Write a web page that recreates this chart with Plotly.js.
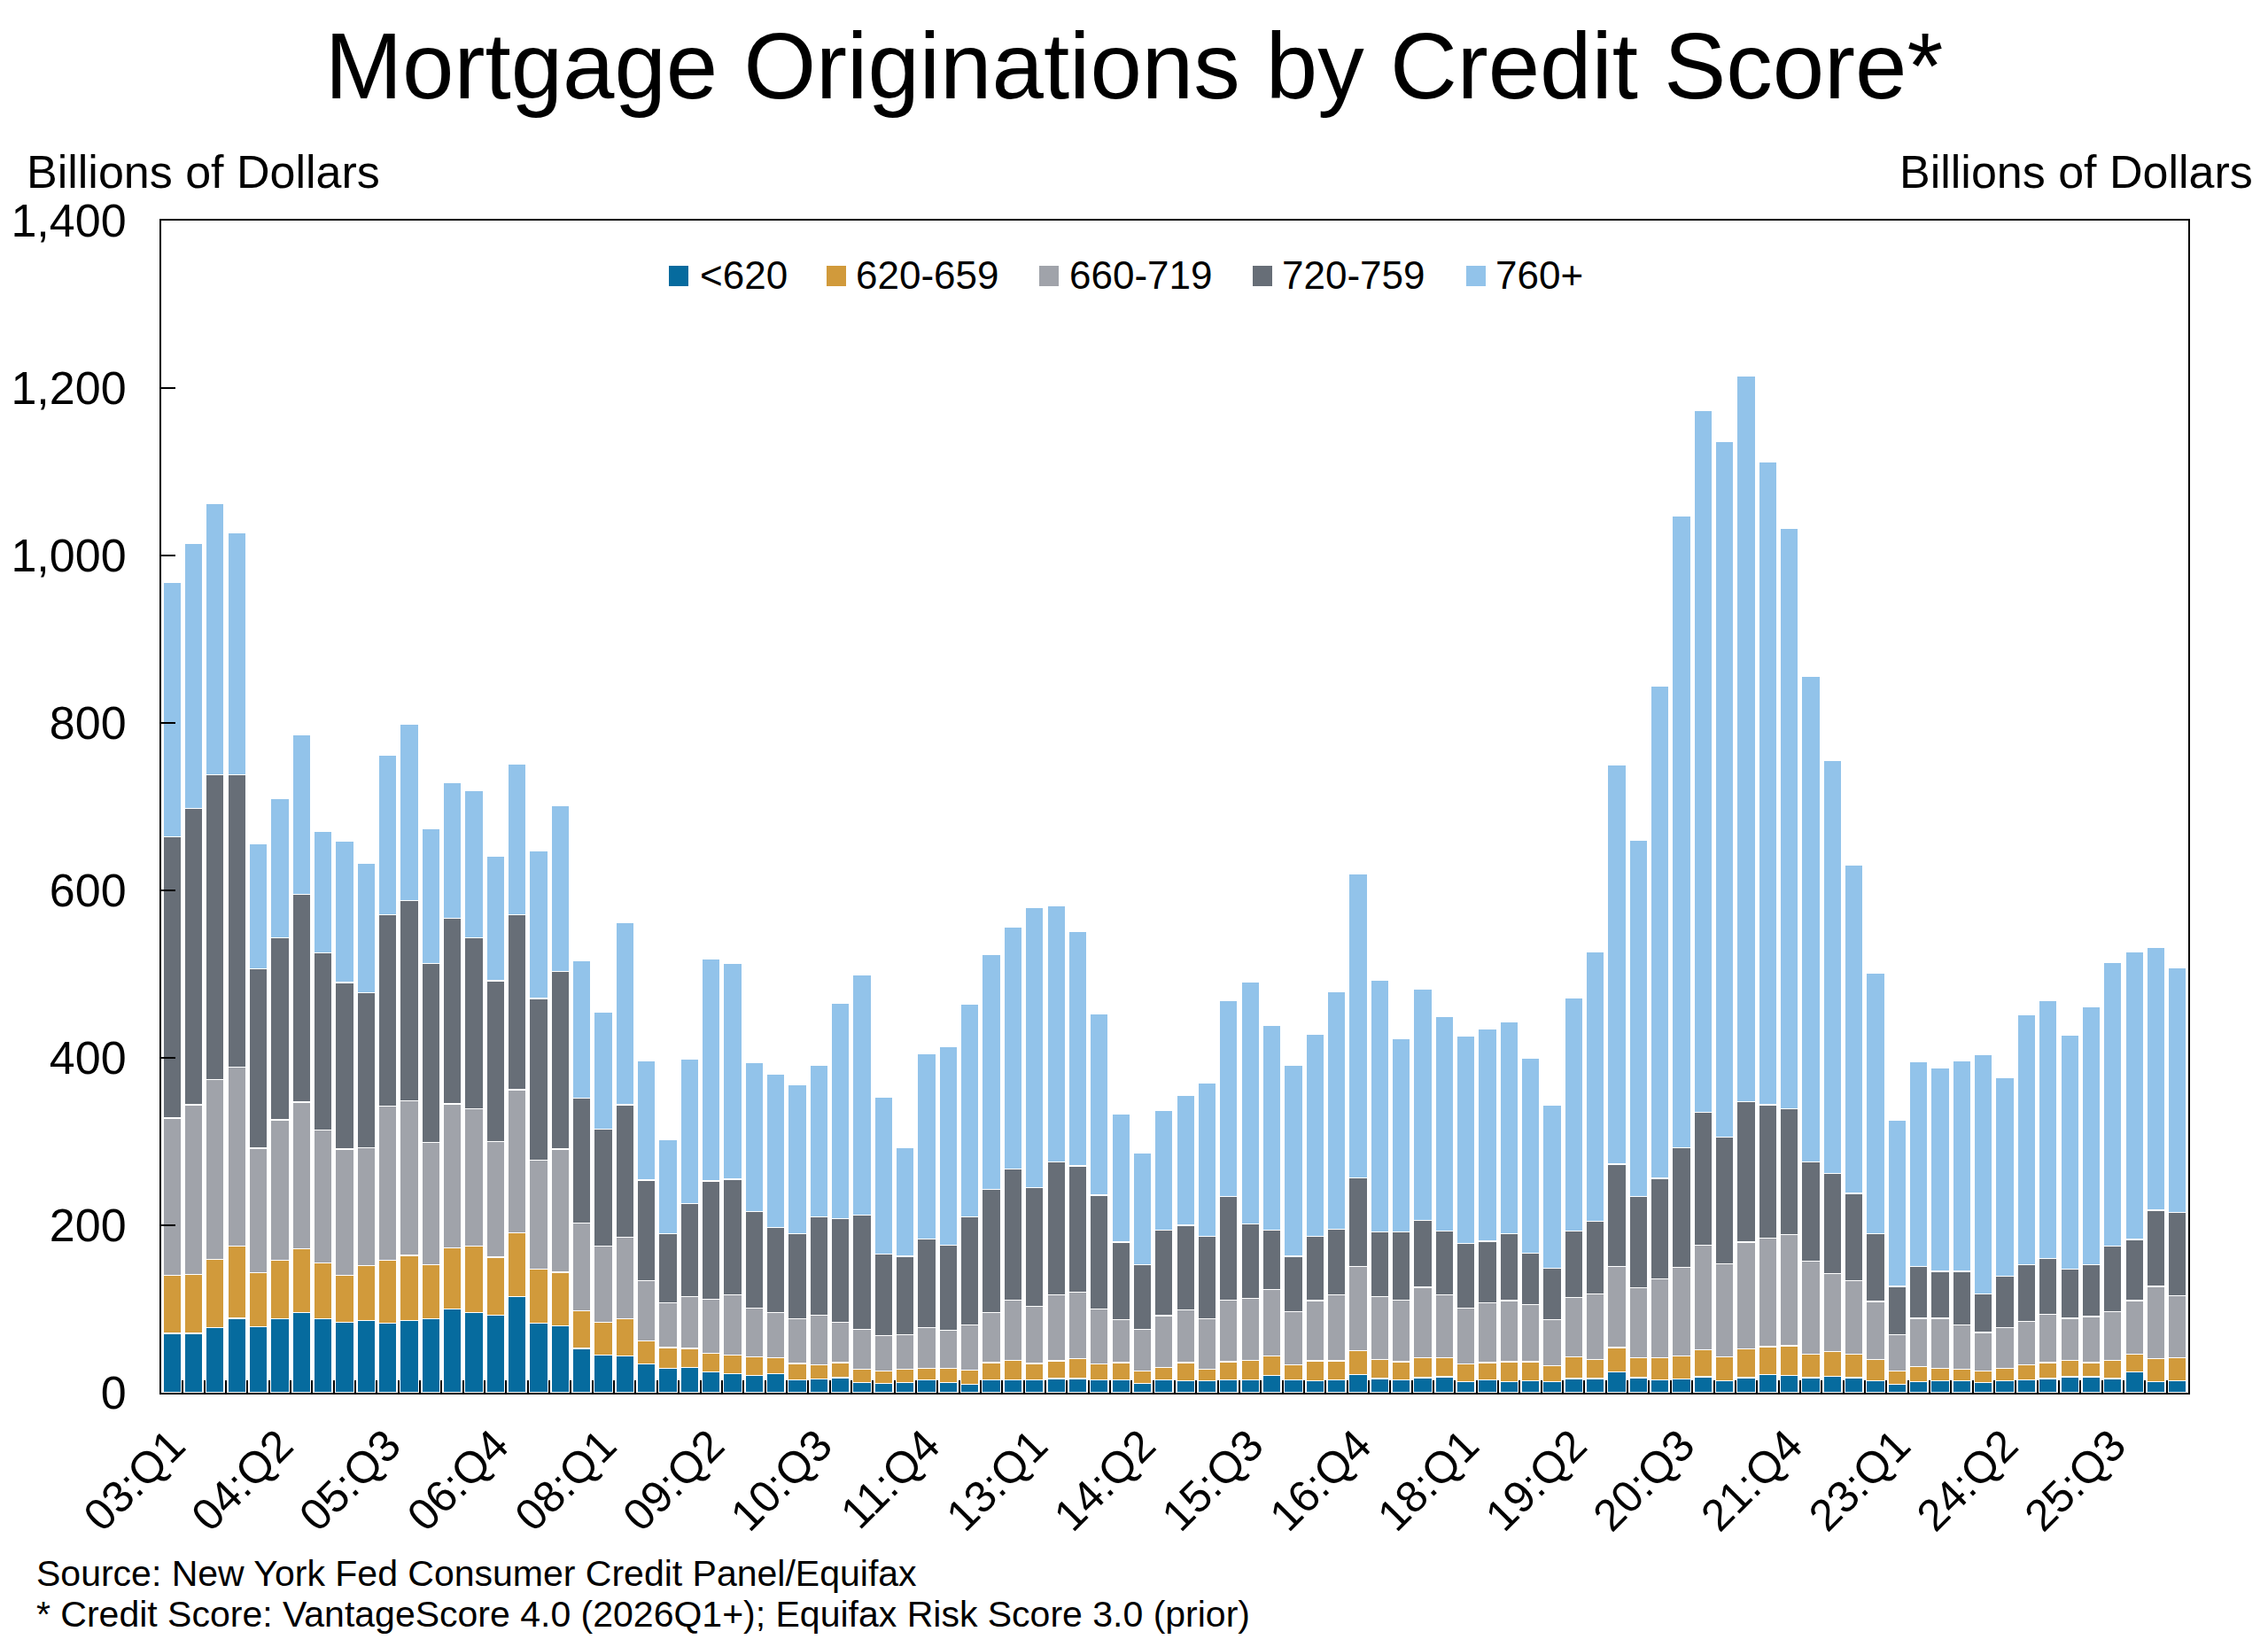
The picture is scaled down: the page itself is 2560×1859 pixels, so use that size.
<!DOCTYPE html>
<html>
<head>
<meta charset="utf-8">
<script src="https://cdn.plot.ly/plotly-3.0.1.min.js"></script>
<style>
  html, body { margin: 0; padding: 0; background: #ffffff; }
  #chart { width: 2560px; height: 1859px; }
</style>
</head>
<body>
<div id="chart"></div>
<script>
// Quarter categories, 2003Q1 .. 2026Q2
const quarters = [
  "03:Q1","03:Q2","03:Q3","03:Q4","04:Q1","04:Q2","04:Q3","04:Q4",
  "05:Q1","05:Q2","05:Q3","05:Q4","06:Q1","06:Q2","06:Q3","06:Q4",
  "07:Q1","07:Q2","07:Q3","07:Q4","08:Q1","08:Q2","08:Q3","08:Q4",
  "09:Q1","09:Q2","09:Q3","09:Q4","10:Q1","10:Q2","10:Q3","10:Q4",
  "11:Q1","11:Q2","11:Q3","11:Q4","12:Q1","12:Q2","12:Q3","12:Q4",
  "13:Q1","13:Q2","13:Q3","13:Q4","14:Q1","14:Q2","14:Q3","14:Q4",
  "15:Q1","15:Q2","15:Q3","15:Q4","16:Q1","16:Q2","16:Q3","16:Q4",
  "17:Q1","17:Q2","17:Q3","17:Q4","18:Q1","18:Q2","18:Q3","18:Q4",
  "19:Q1","19:Q2","19:Q3","19:Q4","20:Q1","20:Q2","20:Q3","20:Q4",
  "21:Q1","21:Q2","21:Q3","21:Q4","22:Q1","22:Q2","22:Q3","22:Q4",
  "23:Q1","23:Q2","23:Q3","23:Q4","24:Q1","24:Q2","24:Q3","24:Q4",
  "25:Q1","25:Q2","25:Q3","25:Q4","26:Q1","26:Q2"
];

// Labelled quarters on the x axis
const labelledQuarters = [
  "03:Q1","04:Q2","05:Q3","06:Q4","08:Q1","09:Q2","10:Q3","11:Q4",
  "13:Q1","14:Q2","15:Q3","16:Q4","18:Q1","19:Q2","20:Q3","21:Q4",
  "23:Q1","24:Q2","25:Q3"
];

// Billions of dollars by credit score band
const under620 = [
  71,71,78,89,79,88,96,88,84,86,83,86,88,100,96,93,
  115,83,80,53,45,44,34,29,30,25,23,21,23,15,16,18,
  12,11,12,15,12,10,15,15,15,17,17,15,15,11,15,14,
  14,15,15,21,15,14,15,22,17,15,18,19,13,15,13,14,
  13,17,17,25,18,15,16,19,14,18,22,21,18,20,18,14,
  10,13,14,14,12,14,15,17,19,19,17,25,13,14
];
const s620_659 = [
  69,70,81,86,64,70,76,67,56,66,75,78,65,73,79,69,
  76,65,64,45,39,44,28,25,23,22,22,22,19,20,17,18,
  16,15,16,14,17,17,21,24,20,21,24,19,21,15,15,22,
  14,22,24,23,18,24,23,28,23,22,24,23,21,21,24,23,
  19,26,23,29,24,27,28,32,29,34,33,35,28,29,28,26,
  16,18,15,14,14,15,18,19,20,17,22,21,28,28
];
const s660_719 = [
  188,203,215,214,149,168,175,159,151,141,184,185,146,172,164,138,
  171,130,147,105,91,98,72,53,62,65,72,58,54,53,60,48,
  48,42,41,49,46,54,60,72,68,79,79,66,51,50,62,63,
  60,74,74,79,64,72,79,101,75,74,84,75,67,71,73,68,
  55,71,78,97,83,94,106,125,111,128,130,133,111,93,88,69,
  43,58,60,53,46,49,52,58,50,55,58,64,86,74
];
const s720_759 = [
  336,354,364,349,214,217,248,211,199,185,229,239,214,222,204,192,
  209,193,212,149,140,158,120,83,111,141,138,115,101,102,117,124,
  136,98,94,106,101,129,147,156,142,159,151,136,93,77,102,101,
  99,123,89,71,66,77,78,106,77,81,80,76,77,74,80,62,
  62,79,87,122,109,120,143,159,151,168,159,150,119,120,104,81,
  58,62,56,64,46,61,68,66,59,62,78,73,91,99
];
const s760plus = [
  304,316,324,289,150,167,191,146,169,154,190,211,161,162,176,149,
  180,176,198,164,140,217,142,112,173,265,258,178,184,178,181,257,
  287,187,130,221,237,254,280,289,334,306,280,217,153,133,143,155,
  183,234,289,245,228,241,284,363,301,231,276,256,248,254,253,233,
  194,279,322,477,426,588,754,838,831,866,768,693,580,493,392,311,
  198,244,243,251,286,237,298,308,279,308,339,344,314,292
];

const seriesNames  = ["<620", "620-659", "660-719", "720-759", "760+"];
const seriesValues = [under620, s620_659, s660_719, s720_759, s760plus];
const seriesColors = ["#066b9e", "#d19a3b", "#a0a3aa", "#676e77", "#92c3ea"];

const yTickVals = [0, 200, 400, 600, 800, 1000, 1200, 1400];

const sourceLines = [
  "Source: New York Fed Consumer Credit Panel/Equifax",
  "* Credit Score: VantageScore 4.0 (2026Q1+); Equifax Risk Score 3.0 (prior)"
];

// ---- layout geometry (page pixels) ----
const FONT = "Liberation Sans, Arial, Helvetica, sans-serif";
const PLOT = { left: 182, right: 2470, top: 249, bottom: 1572 };
const PW = PLOT.right - PLOT.left, PH = PLOT.bottom - PLOT.top;
const px = X => (X - PLOT.left) / PW;      // page x -> paper x
const py = Y => (PLOT.bottom - Y) / PH;    // page y -> paper y

// legend layout (page pixels): symbol left edges, text left edges
const legendSymbolLeft = [755, 933, 1173, 1414, 1655];
const legendTextLeft   = [790, 966, 1207, 1447, 1688];
const legendSymbolSize = 22, legendTop = 300, legendMidY = 311;

const traces = seriesNames.map((name, k) => ({
  type: "bar",
  name: name,
  x: quarters,
  y: seriesValues[k],
  marker: { color: seriesColors[k], line: { color: "#ffffff", width: 1.2 } },
  hoverinfo: "x+y+name"
}));

const tickText = quarters.map(q => labelledQuarters.includes(q) ? q : "");

const legendShapes = seriesNames.map((n, k) => ({
  type: "rect", xref: "paper", yref: "paper",
  x0: px(legendSymbolLeft[k]), x1: px(legendSymbolLeft[k] + legendSymbolSize),
  y0: py(legendTop + legendSymbolSize + 1), y1: py(legendTop),
  fillcolor: seriesColors[k], line: { width: 0 }, layer: "above"
}));
const legendLabels = seriesNames.map((n, k) => ({
  text: n, showarrow: false, xref: "paper", yref: "paper",
  x: px(legendTextLeft[k] - 2), y: py(legendMidY),
  xanchor: "left", yanchor: "middle",
  font: { family: FONT, size: 44, color: "#000000" }
}));

const layout = {
  width: 2560,
  height: 1859,
  margin: { l: PLOT.left, r: 2560 - PLOT.right, t: PLOT.top, b: 1859 - PLOT.bottom, pad: 0 },
  paper_bgcolor: "#ffffff",
  plot_bgcolor: "#ffffff",
  barmode: "stack",
  bargap: 0.16,
  font: { family: FONT, color: "#000000", size: 50 },
  title: {
    text: "Mortgage Originations by Credit Score*",
    font: { family: FONT, size: 105, color: "#000000" },
    x: 0.5, xref: "container", xanchor: "center",
    y: 0.960, yref: "container", yanchor: "middle"
  },
  showlegend: false,
  xaxis: {
    type: "category",
    categoryorder: "array",
    categoryarray: quarters,
    range: [-0.5, quarters.length - 0.5],
    tickmode: "array",
    tickvals: quarters,
    ticktext: tickText,
    tickson: "boundaries",
    ticks: "inside",
    ticklen: 14,
    tickwidth: 2,
    tickcolor: "#000000",
    tickangle: -45,
    tickfont: { family: FONT, size: 50, color: "#000000" },
    ticklabelstandoff: 8,
    showline: true,
    linecolor: "#000000",
    linewidth: 2,
    mirror: true,
    showgrid: false,
    zeroline: false,
    fixedrange: true
  },
  yaxis: {
    range: [0, 1400],
    tickmode: "array",
    tickvals: yTickVals,
    tickformat: ",",
    ticks: "inside",
    ticklen: 16,
    tickwidth: 2,
    tickcolor: "#000000",
    tickfont: { family: FONT, size: 52, color: "#000000" },
    ticklabelstandoff: 27,
    showline: true,
    linecolor: "#000000",
    linewidth: 2,
    mirror: true,
    showgrid: false,
    zeroline: false,
    fixedrange: true
  },
  shapes: legendShapes,
  annotations: [
    {
      text: "Billions of Dollars", showarrow: false,
      xref: "paper", yref: "paper", x: px(28), y: py(194),
      xanchor: "left", yanchor: "middle",
      font: { family: FONT, size: 52, color: "#000000" }
    },
    {
      text: "Billions of Dollars", showarrow: false,
      xref: "paper", yref: "paper", x: px(2545), y: py(194),
      xanchor: "right", yanchor: "middle",
      font: { family: FONT, size: 52, color: "#000000" }
    },
    {
      text: sourceLines[0], showarrow: false,
      xref: "paper", yref: "paper", x: px(39), y: py(1776),
      xanchor: "left", yanchor: "middle",
      font: { family: FONT, size: 41, color: "#000000" }
    },
    {
      text: sourceLines[1], showarrow: false,
      xref: "paper", yref: "paper", x: px(39), y: py(1822),
      xanchor: "left", yanchor: "middle",
      font: { family: FONT, size: 41, color: "#000000" }
    }
  ].concat(legendLabels)
};

Plotly.newPlot("chart", traces, layout, { displayModeBar: false, staticPlot: true });
</script>
</body>
</html>
